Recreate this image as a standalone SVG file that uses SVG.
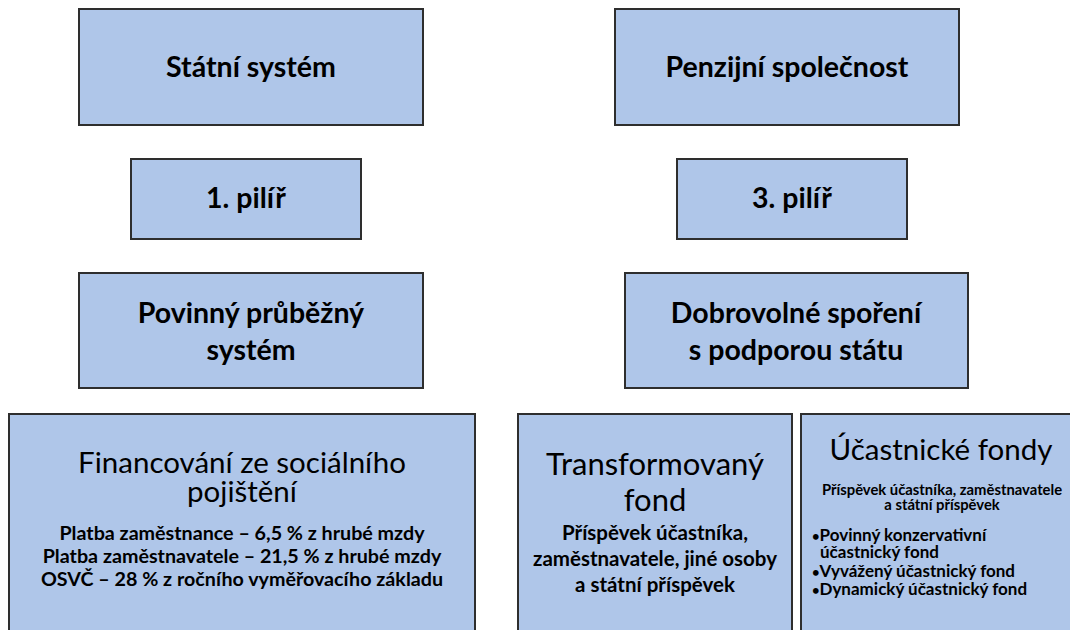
<svg xmlns="http://www.w3.org/2000/svg" width="1070" height="630" viewBox="0 0 1070 630">
<style>
.box{fill:#afc6e9;stroke:#2e2e2e;stroke-width:2}
text{font-family:Lato,"Liberation Sans",sans-serif;fill:#000;text-anchor:middle}
.t{font-size:28.5px;font-weight:bold}
.h{font-size:29.5px}
.s{font-size:19.7px;font-weight:bold}
.xs{font-size:14.8px;font-weight:bold}
.b{font-size:17px;font-weight:bold;text-anchor:start}
.bul{font-size:13px}
</style>
<rect width="1070" height="630" fill="#fff"/>
<g id="connectors"/>
<g id="n1"><rect class="box" x="79" y="9" width="344" height="116"/><text class="t" x="251" y="77">Státní systém</text></g>
<g id="n2"><rect class="box" x="131" y="159" width="230" height="80"/><text class="t" x="246" y="208">1. pilíř</text></g>
<g id="n3"><rect class="box" x="79" y="273" width="344" height="115"/><text class="t" x="251" y="323">Povinný průběžný</text><text class="t" x="251" y="360">systém</text></g>
<g id="n4"><rect class="box" x="615" y="9" width="344" height="116"/><text class="t" x="787" y="77">Penzijní společnost</text></g>
<g id="n5"><rect class="box" x="677" y="159" width="230" height="80"/><text class="t" x="792" y="208">3. pilíř</text></g>
<g id="n6"><rect class="box" x="625" y="273" width="343" height="115"/><text class="t" x="796" y="323">Dobrovolné spoření</text><text class="t" x="796" y="360">s podporou státu</text></g>
<g id="n7"><rect class="box" x="9" y="414" width="466" height="230"/>
<text class="h" x="242" y="473">Financování ze sociálního</text>
<text class="h" x="242" y="502">pojištění</text>
<text class="s" x="242" y="540">Platba zaměstnance – 6,5 % z hrubé mzdy</text>
<text class="s" x="242" y="563">Platba zaměstnavatele – 21,5 % z hrubé mzdy</text>
<text class="s" x="242" y="586">OSVČ – 28 % z ročního vyměřovacího základu</text></g>
<g id="n8"><rect class="box" x="518" y="414" width="274" height="230"/>
<text class="h" x="655" y="475" style="font-size:31px">Transformovaný</text>
<text class="h" x="655" y="511" style="font-size:31px">fond</text>
<text class="s" x="655" y="540" style="font-size:20.5px">Příspěvek účastníka,</text>
<text class="s" x="655" y="566" style="font-size:20.5px">zaměstnavatele, jiné osoby</text>
<text class="s" x="655" y="592" style="font-size:20.5px">a státní příspěvek</text></g>
<g id="n9"><rect class="box" x="801" y="414" width="290" height="230"/>
<text class="h" x="941" y="460">Účastnické fondy</text>
<text class="xs" x="942" y="495">Příspěvek účastníka, zaměstnavatele</text>
<text class="xs" x="942" y="510">a státní příspěvek</text>
<text class="b" x="812" y="541"><tspan class="bul">•</tspan>Povinný konzervativní</text>
<text class="b" x="820" y="558">účastnický fond</text>
<text class="b" x="812" y="577"><tspan class="bul">•</tspan>Vyvážený účastnický fond</text>
<text class="b" x="812" y="595"><tspan class="bul">•</tspan>Dynamický účastnický fond</text></g>
</svg>
